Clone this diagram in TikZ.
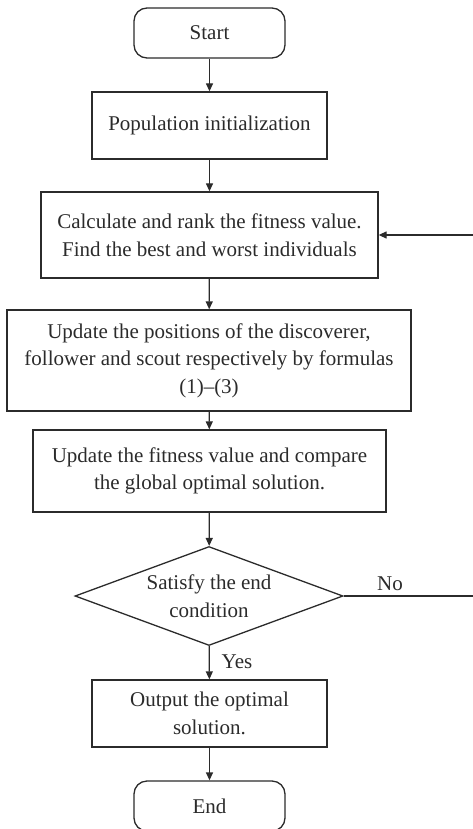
\documentclass[tikz,border=0pt]{standalone}
\usepackage{fontspec}
\setmainfont{Liberation Serif}
\usetikzlibrary{arrows.meta,shapes.geometric}
\definecolor{ink}{HTML}{2B2B2B}
\begin{document}
\begin{tikzpicture}[x=1pt,y=-1pt,
  every node/.style={font=\fontsize{21}{27.5}\selectfont, text=ink, inner sep=0pt, align=center},
  box/.style={draw=ink, line width=1.3pt, rectangle},
  term/.style={draw=ink, line width=1.3pt, rectangle, rounded corners=13pt, minimum width=151pt, minimum height=50pt},
  decis/.style={draw=ink, line width=1.3pt, diamond, minimum width=268pt, minimum height=99pt, inner sep=0pt},
  flow/.style={draw=ink, line width=1.3pt, -{Triangle[length=8pt,width=7pt]}},
  lbl/.style={font=\fontsize{21}{27.5}\selectfont}]
\clip (0,0) rectangle (473,829);
\useasboundingbox (0,0) rectangle (473,829);
\node[term] (start) at (209.5,33) {Start};
\node[box, minimum width=235pt, minimum height=67pt] (pop) at (209.5,125.5) {Population initialization};
\node[box, minimum width=337pt, minimum height=86pt] (calc) at (209.5,235) {Calculate and rank the fitness value.\\Find the best and worst individuals};
\node[box, minimum width=404pt, minimum height=101pt] (upd) at (209,360.5) {Update the positions of the discoverer,\\follower and scout respectively by formulas\\(1)--(3)};
\node[box, minimum width=353pt, minimum height=82pt] (fit) at (209.5,471) {Update the fitness value and compare\\the global optimal solution.};
\node[decis] (dec) at (209,596) {};
\node at (dec.center) {Satisfy the end\\condition};
\node[box, minimum width=235pt, minimum height=67pt] (out) at (209.5,713.5) {Output the optimal\\solution.};
\node[term] (end) at (209.5,806) {End};
\node[lbl] (no) at (390,584) {No};
\node[lbl] (yes) at (237,662) {Yes};
\coordinate (loopx) at (485,596);
\draw[flow] (start) -- (pop);
\draw[flow] (pop) -- (calc);
\draw[flow] (calc) -- (upd);
\draw[flow] (upd) -- (fit);
\draw[flow] (fit) -- (dec);
\draw[flow] (dec) -- (out);
\draw[flow] (out) -- (end);
\draw[flow] (dec.east) -- (loopx) |- (calc.east);
\end{tikzpicture}
\end{document}
